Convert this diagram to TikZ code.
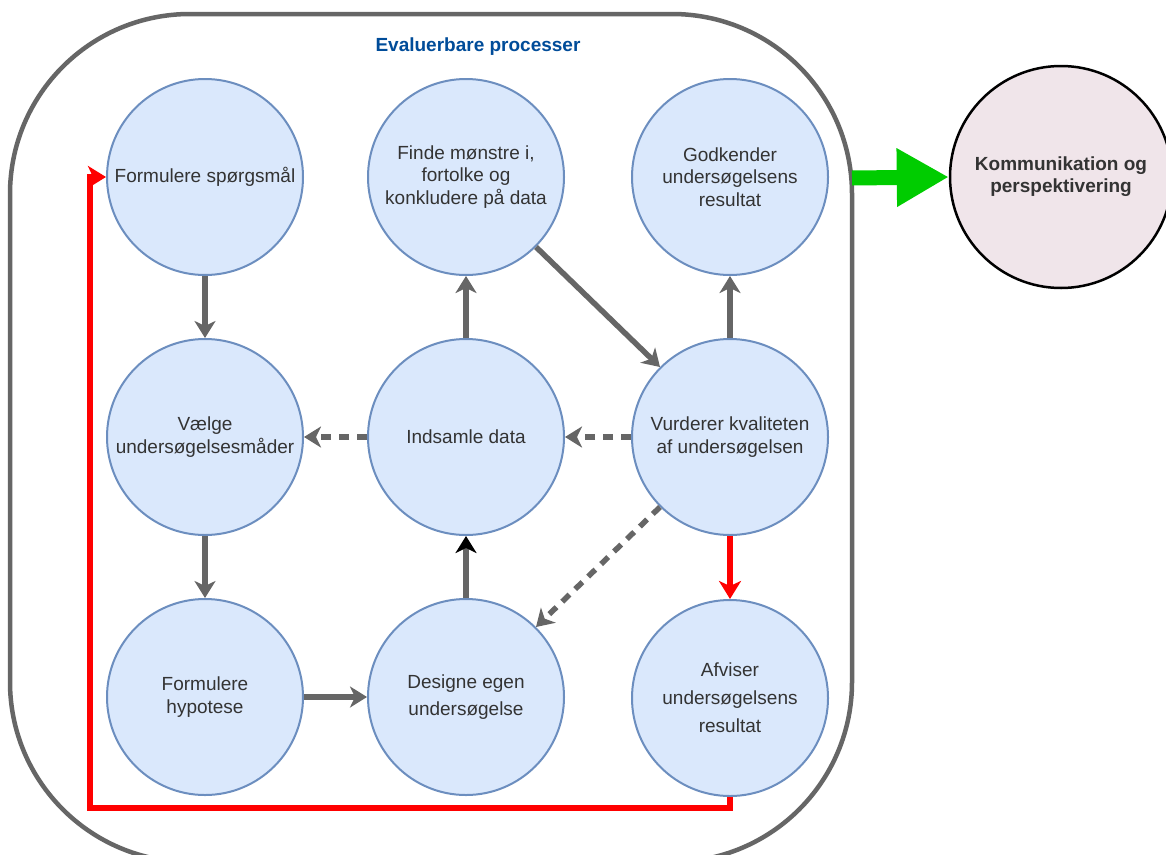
\documentclass[tikz,border=0pt]{standalone}
\usepackage{fontspec}
\setmainfont{Liberation Sans}
\usetikzlibrary{arrows.meta}
\definecolor{blobfill}{HTML}{DAE8FC}
\definecolor{blobline}{HTML}{6C8EBF}
\definecolor{txtgray}{HTML}{333333}
\definecolor{arrgray}{HTML}{666666}
\definecolor{titleblue}{HTML}{004C99}
\definecolor{pinkfill}{HTML}{F0E5EA}
\definecolor{bigarrow}{HTML}{00CC00}
\tikzset{
  blob/.style={circle, draw=blobline, line width=2pt, fill=blobfill, minimum size=196pt, inner sep=0pt,
    align=center, text=txtgray, font=\fontsize{19}{22.5}\selectfont},
  flow/.style={draw=arrgray, line width=5.5pt, -{Stealth[length=17pt, width=21pt, inset=5pt]}},
  dflow/.style={flow, dash pattern=on 10pt off 8pt},
  rflow/.style={draw=red, line width=5.5pt, -{Stealth[length=18pt, width=22pt, inset=5pt]}},
}
\begin{document}
\begin{tikzpicture}[x=1pt,y=-1pt]
\clip (0,0) rectangle (1166,854);
\fill[white] (0,0) rectangle (1166,854);
% outer frame
\draw[arrgray, line width=4.5pt, rounded corners=180pt] (10,14) rectangle (852,862);
\coordinate (frameR) at (852,178);
\node[text=titleblue, font=\fontsize{19}{22}\selectfont\bfseries] (title) at (478,47) {Evaluerbare processer};

% circles
\node[blob] (fs) at (205,177) {Formulere spørgsmål};
\node[blob] (fm) at (466,177) {Finde mønstre i,\\fortolke og\\konkludere på data};
\node[blob] (gk) at (730,177) {Godkender\\undersøgelsens\\resultat};
\node[blob] (vm) at (205,437) {Vælge\\undersøgelsesmåder};
\node[blob] (id) at (466,437) {Indsamle data};
\node[blob] (vk) at (730,437) {Vurderer kvaliteten\\af undersøgelsen};
\node[blob] (fh) at (205,697) {Formulere\\hypotese};
\node[blob] (de) at (466,697) {Designe egen\\[5pt]undersøgelse};
\node[blob] (af) at (730,698) {Afviser\\[5.5pt]undersøgelsens\\[5.5pt]resultat};

\node[circle, draw=black, line width=2.5pt, fill=pinkfill, minimum size=222pt, inner sep=0pt, align=center,
  text=txtgray, font=\fontsize{19}{22}\selectfont\bfseries] (km) at (1061,177) {Kommunikation og\\perspektivering};

% connectors
\draw[flow] (fs.south) -- (vm.north);
\draw[flow] (vm.south) -- (fh.north);
\draw[flow] (fh.east) -- (de.west);
\draw[draw=arrgray, line width=5.5pt, -{Stealth[length=17pt, width=21pt, inset=5pt, color=black]}] (de.north) -- (id.south);
\draw[flow] (id.north) -- (fm.south);
\draw[flow] (fm.-45) -- (vk.135);
\draw[flow] (vk.north) -- (gk.south);
\draw[dflow] (vk.west) -- (id.east);
\draw[dflow] (id.west) -- (vm.east);
\draw[dflow] (vk.225) -- (de.45);
\draw[rflow] (vk.south) -- (af.north);
\coordinate (rc) at (90,808);
\draw[rflow] (af.south) |- (rc) |- (fs.west);

% green arrow
\draw[bigarrow, line width=15pt, -{Triangle[length=52pt, width=55pt]}] (frameR) -- (km.west);
\end{tikzpicture}
\end{document}
